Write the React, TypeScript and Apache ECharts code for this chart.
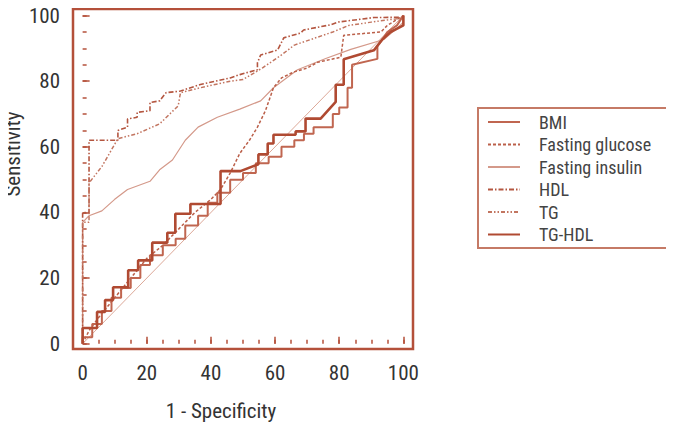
import React, { useEffect, useRef } from "react";
import * as echarts from "echarts";

// ROC curves: [1 - specificity, sensitivity] in percent
const bmi: [number, number][] = [
  [0, 0], [0, 2], [3, 2], [3, 6], [6, 6], [6, 10], [9, 10], [9, 14], [12, 14], [12, 17],
  [15, 17], [15, 20], [18, 20], [18, 24], [21, 24], [21, 27], [25, 27], [25, 30], [29, 30],
  [29, 32], [32, 32], [32, 36], [36, 36], [36, 39], [39, 39], [39, 43], [42, 43], [42, 46],
  [46, 46], [46, 50], [50, 50], [50, 52], [54, 52], [54, 55], [58, 55], [58, 57], [62, 57],
  [62, 60], [66, 60], [66, 62], [69, 62], [69, 64], [72, 64], [72, 66], [78, 66], [78, 70],
  [80, 70], [80, 72], [82.6, 72], [82.6, 78], [84, 78], [84, 85], [91.9, 86.8], [91.9, 90.8],
  [93.5, 92.8], [95, 95], [98, 97], [100, 100],
];

const fastingGlucose: [number, number][] = [
  [0, 0], [2, 4], [5, 8], [10, 14], [15, 20], [20, 26], [25, 30], [30, 35], [35, 40],
  [40, 44], [43, 47], [46, 52], [49, 58], [52, 62], [54.5, 66], [57, 71], [59.5, 78],
  [62, 81], [65.8, 82.8], [70, 84], [73.3, 85.8], [80.5, 87.3], [81.4, 94], [93, 95],
  [95, 97], [100, 100],
];

const fastingInsulin: [number, number][] = [
  [0, 0], [0, 37], [2, 39], [6, 40.5], [10, 44], [14, 47], [21, 49.5], [24, 53], [28, 56],
  [32, 62], [36, 66], [42, 69], [49, 71.5], [55.5, 74], [59.5, 78], [67, 83.5], [76, 87],
  [83.6, 89.7], [93.9, 92.7], [98.3, 96.4], [100, 98], [100, 100],
];

const hdl: [number, number][] = [
  [0, 0], [0, 40], [2, 40], [2, 62], [11, 62], [11, 65], [14, 66], [14, 68.5], [17, 69],
  [17, 70.5], [21, 71], [21, 73.5], [24, 74], [26, 76.5], [30.5, 77], [36.7, 79], [46, 81],
  [49, 82], [54.5, 83.5], [54.5, 85.6], [55.5, 88], [60.8, 89.5], [62.7, 93.2], [68, 94.7],
  [68.9, 95.6], [77.3, 97.2], [79.5, 98], [90.8, 99.4], [100, 99.5], [100, 100],
];

const tg: [number, number][] = [
  [0, 0], [0, 37], [2, 37], [2, 49], [6, 54], [11, 62.5], [17, 64], [24, 67], [29.8, 72.5],
  [30.5, 76.5], [36.7, 78], [46, 80], [50, 80.5], [56, 84], [62, 88], [66, 91], [72, 93],
  [78, 95], [83, 97], [90, 98], [100, 99.3], [100, 100],
];

const tgHdl: [number, number][] = [
  [0, 0], [0, 4.8], [4.5, 4.8], [4.5, 9.7], [7, 9.7], [7, 13.3], [9.5, 13.3], [9.5, 17.2],
  [14.2, 17.2], [14.2, 22.4], [17.3, 22.4], [17.3, 25.4], [21.7, 25.4], [21.7, 30.8],
  [26.4, 30.8], [26.4, 33.8], [28.9, 33.8], [28.9, 39.6], [33.6, 39.6], [33.6, 42.6],
  [43, 42.6], [43, 52.6], [49.2, 52.6], [54.8, 54.7], [54.8, 57.7], [57.7, 57.7], [57.7, 61],
  [59.5, 61], [59.5, 63.7], [66.4, 63.7], [66.4, 64.7], [69.5, 64.7], [69.5, 68.6],
  [74.2, 68.6], [78.9, 73.7], [78.9, 78.9], [81.4, 78.9], [81.4, 86.7], [90.8, 89.4],
  [93.5, 92.8], [96, 95], [100, 97], [100, 100],
];

const reference: [number, number][] = [[0, 0], [100, 100]];

const names = ["BMI", "Fasting glucose", "Fasting insulin", "HDL", "TG", "TG-HDL"];
const majorTicks = [0, 20, 40, 60, 80, 100];
const minorTicks = [0, 5, 10, 15, 20, 25, 30, 35, 40, 45, 50, 55, 60, 65, 70, 75, 80, 85, 90, 95, 100];

const FRAME = "#b4503a";
const FONT = "'Roboto Condensed', 'Liberation Sans Narrow', 'DejaVu Sans Condensed', Roboto, sans-serif";

export default function App() {
  const ref = useRef<HTMLDivElement>(null);

  useEffect(() => {
    if (!ref.current) return;
    const chart = echarts.init(ref.current, undefined, { renderer: "svg" });

    const axisBase = (min: number, max: number) => ({
      type: "value" as const,
      min,
      max,
      splitLine: { show: false },
      axisLine: { show: false },
    });

    const mkLine = (
      name: string,
      data: [number, number][],
      color: string,
      width: number,
      type: any,
      z: number
    ) => ({
      name,
      type: "line",
      data,
      symbol: "none",
      showSymbol: false,
      z,
      lineStyle: { color, width, type },
      itemStyle: { color },
    });

    chart.setOption({
      animation: false,
      grid: {
        left: 73,
        top: 9,
        width: 340,
        height: 340,
        show: true,
        borderColor: FRAME,
        borderWidth: 2.5,
        backgroundColor: "#fff",
      },
      xAxis: [
        {
          ...axisBase(-3, 103),
          position: "bottom",
          axisTick: { show: true, inside: true, length: 4, customValues: minorTicks, lineStyle: { color: FRAME, width: 1.5 } },
          axisLabel: { customValues: majorTicks, color: "#333", fontSize: 21, fontFamily: FONT, margin: 13 },
        },
        {
          ...axisBase(-3, 103),
          position: "bottom",
          axisTick: { show: true, inside: true, length: 7, customValues: majorTicks, lineStyle: { color: FRAME, width: 1.5 } },
          axisLabel: { show: false },
        },
      ],
      yAxis: [
        {
          ...axisBase(-1.6, 102),
          position: "left",
          axisTick: { show: true, inside: true, length: 4, customValues: minorTicks, lineStyle: { color: FRAME, width: 1.5 } },
          axisLabel: { customValues: majorTicks, color: "#333", fontSize: 21, fontFamily: FONT, margin: 13 },
        },
        {
          ...axisBase(-1.6, 102),
          position: "left",
          axisTick: { show: true, inside: true, length: 7, customValues: majorTicks, lineStyle: { color: FRAME, width: 1.5 } },
          axisLabel: { show: false },
        },
      ],
      legend: {
        data: names,
        orient: "vertical",
        left: 487,
        top: 113,
        itemWidth: 32,
        itemHeight: 14,
        itemGap: 4.5,
        padding: 0,
        itemStyle: { opacity: 0 },
        textStyle: { color: "#444", fontSize: 18, lineHeight: 14, fontFamily: FONT, padding: [0, 0, 0, 14] },
        selectedMode: false,
      },
      graphic: [
        {
          type: "rect",
          shape: { x: 478, y: 108, width: 189, height: 140 },
          style: { fill: "none", stroke: "#c57a66", lineWidth: 2 },
          silent: true,
        },
        {
          type: "text",
          x: 13,
          y: 154,
          rotation: Math.PI / 2,
          style: {
            text: "Sensitivity",
            fill: "#333",
            font: `21px ${FONT}`,
            align: "center",
            verticalAlign: "middle",
          },
        },
        {
          type: "text",
          x: 221,
          y: 411,
          style: {
            text: "1 - Specificity",
            fill: "#333",
            font: `21px ${FONT}`,
            align: "center",
            verticalAlign: "middle",
          },
        },
      ],
      series: [
        mkLine("Reference", reference, "#dca898", 1, "solid", 1),
        mkLine(names[0], bmi, "#c06650", 2, "solid", 5),
        mkLine(names[1], fastingGlucose, "#bb604a", 1.5, [3, 2], 3),
        mkLine(names[2], fastingInsulin, "#d4998a", 1.2, "solid", 2),
        mkLine(names[3], hdl, "#b45640", 1.6, [5, 2, 1.5, 2], 4),
        mkLine(names[4], tg, "#c27560", 1.5, [4, 2, 1.5, 2, 1.5, 2], 4),
        mkLine(names[5], tgHdl, "#b04a32", 2.6, "solid", 6),
      ],
    });

    return () => chart.dispose();
  }, []);

  return <div ref={ref} style={{ width: 674, height: 424, marginLeft: -8, marginTop: -8 }} />;
}
